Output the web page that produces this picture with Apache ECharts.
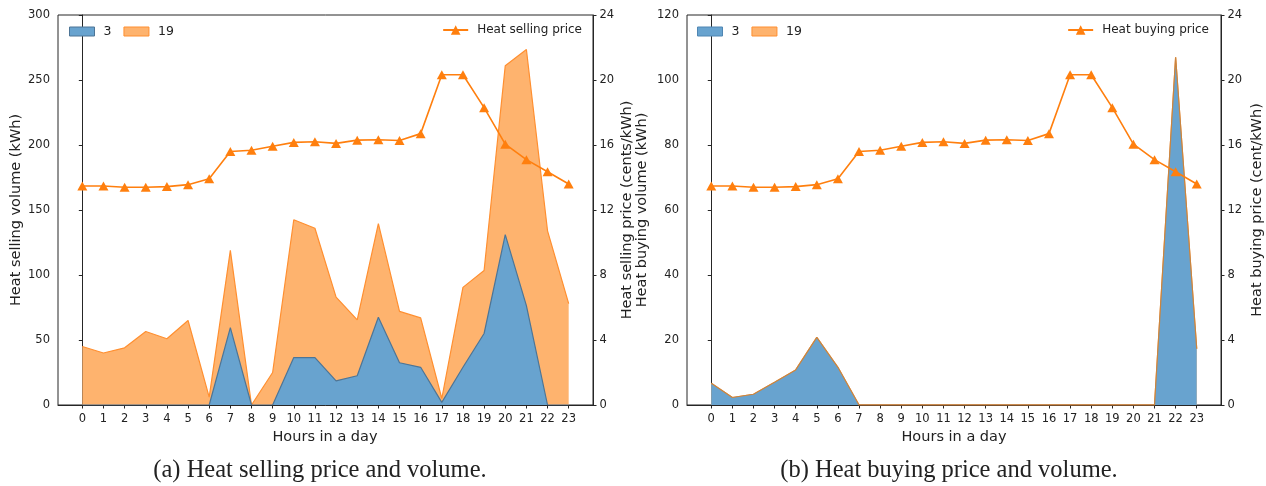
<!DOCTYPE html>
<html>
<head>
<meta charset="utf-8">
<script src="https://cdn.jsdelivr.net/npm/echarts@6/dist/echarts.min.js"></script>
<style>
  html, body { margin: 0; padding: 0; background: #fff; }
  #chart { width: 1266px; height: 486px; }
</style>
</head>
<body>
<div id="chart"></div>
<script>
// Hours of the day (x axis)
const hours = [0, 1, 2, 3, 4, 5, 6, 7, 8, 9, 10, 11, 12, 13, 14, 15, 16, 17, 18, 19, 20, 21, 22, 23];

// (a) heat sold per hour by prosumer 3 and prosumer 19 (kWh, stacked)
const sellVol3 = [0, 0, 0, 0, 0, 0, 0, 59.5, 0, 0, 36.5, 36.5, 18.5, 22.5, 67.5, 32.5, 29, 2, 29, 55, 131, 76.5, 0, 0];
const sellVol19 = [45, 40, 44, 56.5, 51, 65, 6, 59.5, 0, 25, 106, 99.5, 64.5, 43, 72, 39.5, 38, 3, 61.5, 48.5, 130, 197, 134, 78];
// heat selling price (cents/kWh)
const sellPrice = [13.48, 13.48, 13.4, 13.4, 13.44, 13.56, 13.92, 15.6, 15.68, 15.92, 16.16, 16.2, 16.1, 16.3, 16.32, 16.28, 16.7, 20.32, 20.32, 18.3, 16.05, 15.1, 14.35, 13.6];

// (b) heat bought per hour by prosumer 3 and prosumer 19 (kWh, stacked)
const buyVol3 = [6.7, 2.3, 3.3, 7, 10.8, 20.8, 11.6, 0, 0, 0, 0, 0, 0, 0, 0, 0, 0, 0, 0, 0, 0, 0, 107, 17.3];
const buyVol19 = [0, 0, 0, 0, 0, 0, 0, 0, 0, 0, 0, 0, 0, 0, 0, 0, 0, 0, 0, 0, 0, 0, 0, 0];
// heat buying price (cent/kWh)
const buyPrice = [13.48, 13.48, 13.4, 13.4, 13.44, 13.56, 13.92, 15.6, 15.68, 15.92, 16.16, 16.2, 16.1, 16.3, 16.32, 16.28, 16.7, 20.32, 20.32, 18.3, 16.05, 15.1, 14.35, 13.6];

const FONT = 'DejaVu Sans';
const AXIS = '#262626';
const BLUE_FILL = '#68a3cf';
const ORANGE_FILL = '#feb36e';
const ORANGE_EDGE = '#ff8f30';
const ORANGE = '#ff7f0e';

const pairs = (vals) => hours.map((h, i) => [h, vals[i]]);
// top of the stack: the "19" layer sits on the "3" layer
const stackTop = (lower, upper) => lower.map((v, i) => v + upper[i]);

function xAxisFor(gridIndex) {
  return {
    type: 'value', gridIndex, min: -1.15, max: 24.15,
    splitLine: { show: false },
    axisLine: { show: true, lineStyle: { color: AXIS, width: 1 } },
    axisTick: { show: true, customValues: hours, length: 3.5, lineStyle: { color: AXIS } },
    axisLabel: { customValues: hours, margin: 8, color: '#222', fontFamily: FONT, fontSize: 11.5 }
  };
}
function yAxisFor(gridIndex, max, interval, position) {
  return {
    type: 'value', gridIndex, position, min: 0, max, interval,
    splitLine: { show: false },
    axisLine: { show: true, lineStyle: { color: AXIS, width: 1 } },
    axisTick: { show: true, length: 3.5, lineStyle: { color: AXIS } },
    axisLabel: { margin: position === 'left' ? 8 : 6.5, color: '#222', fontFamily: FONT, fontSize: 11.5 }
  };
}
function areaSeries(name, vals, xi, yi, fill, edge, z) {
  return {
    name, type: 'line', data: pairs(vals), xAxisIndex: xi, yAxisIndex: yi,
    showSymbol: false, symbol: 'none', smooth: false,
    lineStyle: { color: edge, width: 1.2 },
    itemStyle: { color: fill, borderColor: edge },
    areaStyle: { color: fill, opacity: 1 },
    z
  };
}
function priceSeries(name, vals, xi, yi) {
  return {
    name, type: 'line', data: pairs(vals), xAxisIndex: xi, yAxisIndex: yi,
    symbol: 'triangle', symbolSize: [10, 9],
    lineStyle: { color: ORANGE, width: 1.6 },
    itemStyle: { color: ORANGE },
    z: 5
  };
}
function rotText(text, x, y) {
  return {
    type: 'text', x, y, rotation: Math.PI / 2,
    style: { text, font: '14.5px "' + FONT + '"', fill: '#222', align: 'center', verticalAlign: 'middle' }
  };
}
function plainText(text, x, y, font) {
  return {
    type: 'text', x, y,
    style: { text, font, fill: '#222', align: 'center', verticalAlign: 'middle' }
  };
}
function areaLegend(left, edgeA) {
  return {
    left, top: 25, padding: 0, itemGap: 12, itemWidth: 25, itemHeight: 9,
    textStyle: { fontFamily: FONT, fontSize: 12.5, color: '#222', padding: [0, 0, 0, 4] },
    data: [
      { name: '3', icon: 'rect', itemStyle: { color: BLUE_FILL, borderColor: edgeA, borderWidth: 1 } },
      { name: '19', icon: 'rect', itemStyle: { color: ORANGE_FILL, borderColor: ORANGE_EDGE, borderWidth: 1 } }
    ]
  };
}
function lineLegend(name, right) {
  return {
    right, top: 24, padding: 0, itemWidth: 25, itemHeight: 12,
    textStyle: { fontFamily: FONT, fontSize: 12, color: '#222', padding: [0, 0, 0, 4] },
    data: [{ name }]
  };
}

const chart = echarts.init(document.getElementById('chart'), null, { renderer: 'canvas' });
chart.setOption({
  animation: false,
  backgroundColor: '#fff',
  grid: [
    { left: 58, right: 673, top: 15, bottom: 81, show: true, borderColor: AXIS, borderWidth: 1, backgroundColor: 'transparent' },
    { left: 687, right: 45, top: 15, bottom: 81, show: true, borderColor: AXIS, borderWidth: 1, backgroundColor: 'transparent' }
  ],
  xAxis: [xAxisFor(0), xAxisFor(1)],
  yAxis: [
    yAxisFor(0, 300, 50, 'left'),
    yAxisFor(0, 24, 4, 'right'),
    yAxisFor(1, 120, 20, 'left'),
    yAxisFor(1, 24, 4, 'right')
  ],
  legend: [
    areaLegend(69, '#4d7596'),
    areaLegend(697, '#4f86b3'),
    lineLegend('Heat selling price', 684),
    lineLegend('Heat buying price', 57)
  ],
  series: [
    // stacked areas: the upper layer is filled down to zero first, the lower layer painted over it
    areaSeries('19', stackTop(sellVol3, sellVol19), 0, 0, ORANGE_FILL, ORANGE_EDGE, 1),
    areaSeries('3', sellVol3, 0, 0, BLUE_FILL, '#4d7596', 2),
    priceSeries('Heat selling price', sellPrice, 0, 1),
    areaSeries('19', stackTop(buyVol3, buyVol19), 1, 2, ORANGE_FILL, ORANGE_EDGE, 1),
    areaSeries('3', buyVol3, 1, 2, BLUE_FILL, '#c98540', 2),
    priceSeries('Heat buying price', buyPrice, 1, 3)
  ],
  graphic: [
    rotText('Heat selling volume (kWh)', 16, 210),
    rotText('Heat selling price (cents/kWh)', 627, 210),
    rotText('Heat buying volume (kWh)', 642, 210),
    rotText('Heat buying price (cent/kWh)', 1257, 210),
    plainText('Hours in a day', 325, 437, '14.5px "' + FONT + '"'),
    plainText('Hours in a day', 954, 437, '14.5px "' + FONT + '"'),
    plainText('(a) Heat selling price and volume.', 320, 471, '24.5px "Liberation Serif"'),
    plainText('(b) Heat buying price and volume.', 949, 471, '24.5px "Liberation Serif"')
  ]
});
</script>
</body>
</html>
